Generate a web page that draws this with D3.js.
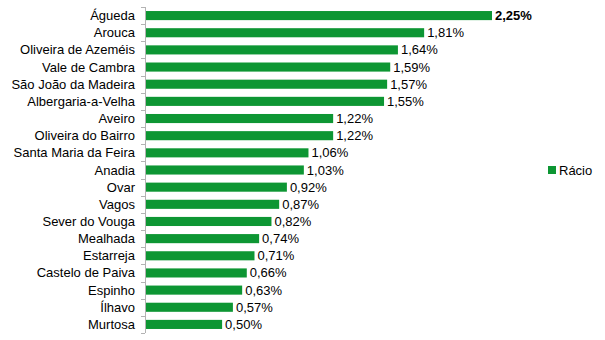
<!DOCTYPE html>
<html><head><meta charset="utf-8">
<script src="https://cdn.jsdelivr.net/npm/d3@7"></script>
<style>body{margin:0;background:#fff}svg{display:block}text{font-family:"Liberation Sans",Arial,sans-serif}</style>
</head><body>
<svg id="c" width="605" height="340"></svg>
<script>
const categories = ["Águeda","Arouca","Oliveira de Azeméis","Vale de Cambra","São João da Madeira","Albergaria-a-Velha","Aveiro","Oliveira do Bairro","Santa Maria da Feira","Anadia","Ovar","Vagos","Sever do Vouga","Mealhada","Estarreja","Castelo de Paiva","Espinho","Ílhavo","Murtosa"];
const values = [2.25,1.81,1.64,1.59,1.57,1.55,1.22,1.22,1.06,1.03,0.92,0.87,0.82,0.74,0.71,0.66,0.63,0.57,0.50];
const seriesName = "Rácio";
const color = "#0d9633";

(function(){
const svg = d3.select("#c");
const x0 = 145, yTop = 7, yBottom = 333;
const x = d3.scaleLinear().domain([0, 2.25]).range([x0, 492]);
const y = d3.scaleBand().domain(categories).range([yTop, yBottom]).paddingInner(0.47).paddingOuter(0.235);

svg.append("g").selectAll("rect").data(values).join("rect")
  .attr("x", x(0)).attr("y", (d,i)=>y(categories[i]))
  .attr("width", d=>x(d)-x(0)).attr("height", y.bandwidth()).attr("fill", color);

const step = (yBottom-yTop)/categories.length;
const ax = svg.append("g").attr("stroke","#b3b3b3").attr("stroke-width",1);
ax.append("line").attr("x1",x0+0.5).attr("x2",x0+0.5).attr("y1",yTop).attr("y2",yBottom);
d3.range(categories.length+1).forEach(i=>{
  const yy = Math.round(yTop+i*step)+0.5;
  ax.append("line").attr("x1",x0-4).attr("x2",x0).attr("y1",yy).attr("y2",yy);
});

svg.append("g").selectAll("text").data(categories).join("text")
  .attr("x",135).attr("y",d=>y(d)+y.bandwidth()/2).attr("dy","0.35em")
  .attr("text-anchor","end").attr("font-size",13).attr("fill","#000").text(d=>d);

const fmt = v => v.toFixed(2).replace(".", ",") + "%";
svg.append("g").selectAll("text").data(values).join("text")
  .attr("x",d=>x(d)+3).attr("y",(d,i)=>y(categories[i])+y.bandwidth()/2).attr("dy","0.35em")
  .attr("font-size",13).attr("fill","#000").attr("font-weight",(d,i)=>i===0?"bold":"normal").text(fmt);

svg.append("rect").attr("x",548).attr("y",166).attr("width",8).attr("height",8).attr("fill",color);
svg.append("text").attr("x",559).attr("y",174.5).attr("font-size",13).attr("fill","#000").text(seriesName);
})();
</script>
</body></html>
